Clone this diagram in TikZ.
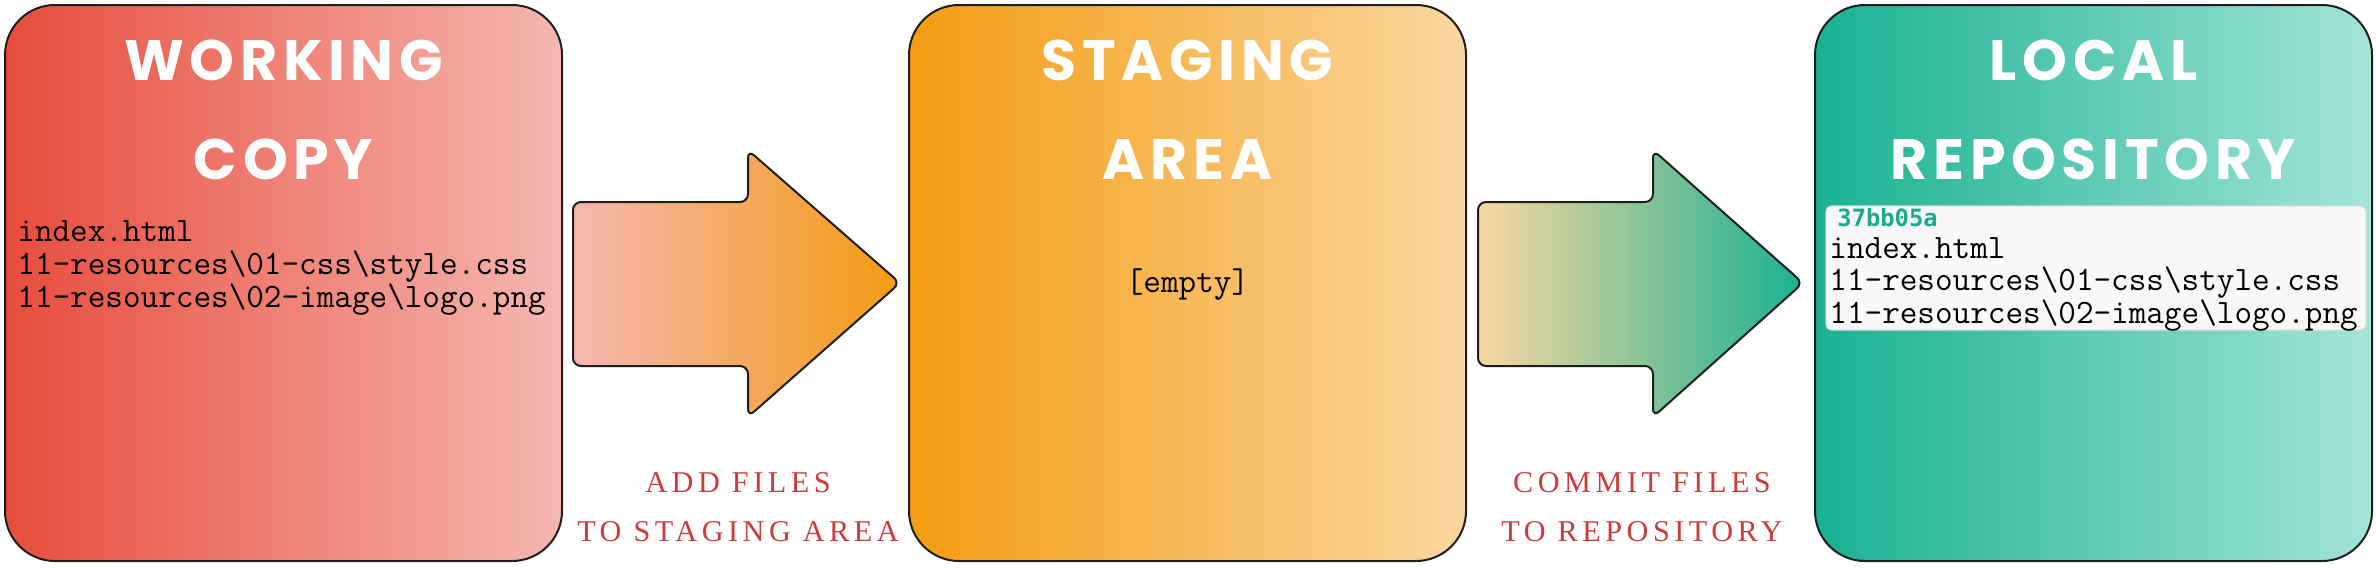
\documentclass[tikz,border=0pt]{standalone}
\usepackage{fontspec}
\newfontfamily\titlefont{Poppins}[LetterSpace=10]
\newfontfamily\hashfont{DejaVu Sans Mono}
\newfontfamily\labelfont{Liberation Serif}[LetterSpace=15]
\definecolor{redA}{HTML}{E74C3C}
\definecolor{redB}{HTML}{F5B7B1}
\definecolor{orA}{HTML}{F39C12}
\definecolor{orB}{HTML}{FAD7A0}
\definecolor{grA}{HTML}{19B192}
\definecolor{grB}{HTML}{A3E4D7}
\definecolor{labred}{HTML}{CC3B3B}
\definecolor{hashgreen}{HTML}{1AAB8E}
\definecolor{commitbg}{HTML}{F8F8F8}
\definecolor{commitline}{HTML}{DDDDDD}
\definecolor{edge}{HTML}{1E1E1E}
\tikzset{
  panel/.style={draw=edge, line width=1pt, rounded corners=25pt, minimum width=278.5pt, minimum height=278pt, inner sep=0pt, outer sep=0pt},
  bigarrow/.style={draw=edge, line width=1pt, rounded corners=4pt},
  titletext/.style={font=\titlefont\bfseries\fontsize{28.5}{30}\selectfont, text=white, anchor=base, inner sep=0pt},
  filetext/.style={font=\ttfamily\fontsize{17.1}{17}\selectfont, anchor=base west, inner sep=0pt},
  labeltext/.style={font=\labelfont\fontsize{15.1}{16}\selectfont, text=labred, anchor=base, inner sep=0pt},
  commitbox/.style={fill=commitbg, draw=commitline, line width=0.6pt, rounded corners=3pt},
  hashtext/.style={font=\hashfont\bfseries\fontsize{11.9}{12}\selectfont, text=hashgreen, anchor=base west, inner sep=0pt}
}
\begin{document}
\begin{tikzpicture}[x=0.5pt, y=-0.5pt]
\useasboundingbox (0,0) rectangle (2377,573);
% panels
\node[panel, left color=redA, right color=redB] (wc) at (283.5,283) {};
\node[panel, left color=orA, right color=orB] (sa) at (1187.5,283) {};
\node[panel, left color=grA, right color=grB] (lr) at (2093.5,283) {};
% arrows
\coordinate (a1tail) at (573,283);
\coordinate (a1tip) at (900,283);
\coordinate (a2tail) at (1478,283);
\coordinate (a2tip) at (1803,283);
\path[bigarrow, left color=redB, right color=orA]
  (573,202) -- (748,202) -- (748,150) -- (900,283) -- (748,417) -- (748,366) -- (573,366) -- cycle;
\path[bigarrow, left color=orB, right color=grA]
  (1478,202) -- (1653,202) -- (1653,150) -- (1803,283) -- (1653,417) -- (1653,366) -- (1478,366) -- cycle;
% titles
\node[titletext] (wc1) at (283.5,80) {WORKING};
\node[titletext] (wc2) at (283.5,179) {COPY};
\node[titletext] (sa1) at (1187.5,80) {STAGING};
\node[titletext] (sa2) at (1187.5,179) {AREA};
\node[titletext] (lr1) at (2093.5,80) {LOCAL};
\node[titletext] (lr2) at (2093.5,179) {REPOSITORY};
% working copy files
\node[filetext] (wf1) at (17,241) {index.html};
\node[filetext] (wf2) at (17,274) {11-resources\textbackslash 01-css\textbackslash style.css};
\node[filetext] (wf3) at (17,307) {11-resources\textbackslash 02-image\textbackslash logo.png};
% staging
\node[filetext, anchor=base] (se) at (1187.5,292) {[empty]};
% commit
\path[commitbox] (1826,206) rectangle (2366,330);
\node[hashtext] (hash) at (1837,226) {37bb05a};
\node[filetext] (lf1) at (1829,258) {index.html};
\node[filetext] (lf2) at (1829,290.5) {11-resources\textbackslash 01-css\textbackslash style.css};
\node[filetext] (lf3) at (1829,323.5) {11-resources\textbackslash 02-image\textbackslash logo.png};
% labels
\node[labeltext] (l1a) at (738,492) {ADD FILES};
\node[labeltext] (l1b) at (738,541) {TO STAGING AREA};
\node[labeltext] (l2a) at (1642,492) {COMMIT FILES};
\node[labeltext] (l2b) at (1642,541) {TO REPOSITORY};
\end{tikzpicture}
\end{document}
